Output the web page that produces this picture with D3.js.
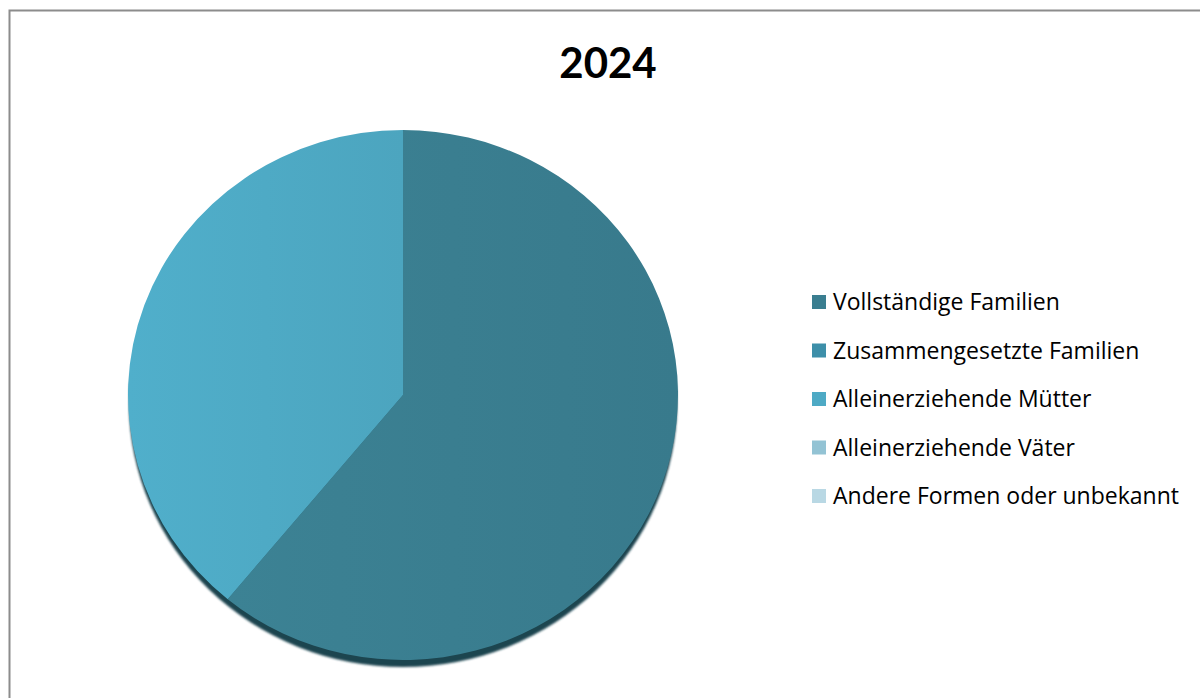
<!DOCTYPE html>
<html>
<head>
<meta charset="utf-8">
<script src="https://cdn.jsdelivr.net/npm/d3@7"></script>
<style>
  html, body { margin: 0; padding: 0; background: #fff; }
  svg { display: block; }
</style>
</head>
<body>
<svg id="chart" width="1200" height="698"></svg>
<script>
// Family forms, share of households in 2024 (%)
const title = "2024";
const categories = [
  "Vollständige Familien",
  "Zusammengesetzte Familien",
  "Alleinerziehende Mütter",
  "Alleinerziehende Väter",
  "Andere Formen oder unbekannt"
];
const values = [61, 0, 39, 0, 0];
const colors = ["#3a7e90", "#3d8fa9", "#4eaac5", "#93c3d4", "#b9d8e4"];

const svg = d3.select("#chart");
const W = 1200, H = 698;

// outer chart frame
svg.append("rect")
  .attr("x", 9.5).attr("y", 10.5)
  .attr("width", W).attr("height", H)
  .attr("fill", "#fff")
  .attr("stroke", "#8c8c8c").attr("stroke-width", 2);

// title
svg.append("text")
  .attr("x", 608).attr("y", 78)
  .attr("text-anchor", "middle")
  .attr("font-family", "Lato, 'Open Sans', sans-serif")
  .attr("font-weight", "bold")
  .attr("font-size", 42)
  .attr("fill", "#000")
  .text(title);

// pie geometry (slightly flattened, tilted look)
const cx = 403, cy = 395, rx = 275, ry = 265;

const defs = svg.append("defs");
defs.append("filter").attr("id", "soft")
  .append("feGaussianBlur").attr("stdDeviation", 1.2);

colors.forEach((c, i) => {
  const g = defs.append("linearGradient")
    .attr("id", "grad" + i)
    .attr("x1", "0%").attr("x2", "100%").attr("y1", "0%").attr("y2", "0%");
  g.append("stop").attr("offset", "0%").attr("stop-color", d3.color(c).brighter(0.08));
  g.append("stop").attr("offset", "100%").attr("stop-color", d3.color(c).darker(0.08));
});

const pie = d3.pie().sort(null).value(d => d.value);
const arcs = pie(categories.map((name, i) => ({ name, value: values[i], i })));
const arc = d3.arc().innerRadius(0).outerRadius(rx);

const pieG = svg.append("g")
  .attr("transform", `translate(${cx},${cy}) scale(1,${ry / rx})`);

// dark underside giving the disc some depth
pieG.append("circle")
  .attr("cx", 0).attr("cy", 8 * rx / ry)
  .attr("r", rx - 1)
  .attr("fill", "#1d4450")
  .attr("filter", "url(#soft)");

pieG.selectAll("path.slice")
  .data(arcs.filter(d => d.data.value > 0))
  .join("path")
  .attr("class", "slice")
  .attr("d", arc)
  .attr("fill", d => `url(#grad${d.data.i})`);

// legend
const legend = svg.append("g").attr("transform", "translate(812,302)");
const row = legend.selectAll("g")
  .data(categories)
  .join("g")
  .attr("transform", (d, i) => `translate(0,${i * 48.5})`);

row.append("rect")
  .attr("x", 0).attr("y", -7)
  .attr("width", 14).attr("height", 14)
  .attr("fill", (d, i) => colors[i]);

row.append("text")
  .attr("x", 21).attr("y", 0)
  .attr("dy", "0.36em")
  .attr("font-family", "'Open Sans', sans-serif")
  .attr("font-size", 23)
  .attr("fill", "#000")
  .text(d => d);
</script>
</body>
</html>
